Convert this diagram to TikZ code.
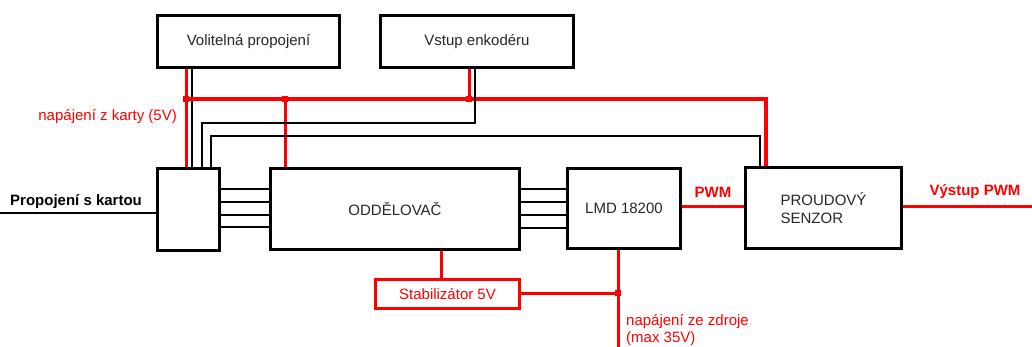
\documentclass[tikz,border=0pt]{standalone}
\usepackage{fontspec}
\setmainfont{Liberation Sans}
\begin{document}
\begin{tikzpicture}[x=1pt,y=-1pt,
  box/.style={draw, line width=3pt, inner sep=0pt, font=\fontsize{15}{18}\selectfont, text=black!85},
  rbox/.style={box, draw=red, text=red},
  wire/.style={line width=2pt},
  rwire/.style={draw=red, line width=3pt},
  lbl/.style={inner sep=0pt, font=\fontsize{15}{17}\selectfont},
  rlbl/.style={lbl, text=red},
  blbl/.style={lbl, font=\fontsize{15}{17}\selectfont\bfseries},
  jdot/.style={fill=red, minimum size=6pt, inner sep=0pt}
]
\useasboundingbox (0,0) rectangle (1032,347);
% boxes
\node[box, minimum width=182pt, minimum height=52pt] (vol) at (248.5,41.5) {Volitelná propojení};
\node[box, minimum width=193pt, minimum height=52pt] (enc) at (477,41.5) {Vstup enkodéru};
\node[box, minimum width=62pt, minimum height=82pt] (jb) at (188.5,209.5) {};
\node[box, minimum width=249pt, minimum height=81pt] (odd) at (395,209) {ODDĚLOVAČ};
\node[box, minimum width=113pt, minimum height=80pt] (lmd) at (624,208.5) {LMD 18200};
\node[box, minimum width=156pt, minimum height=81pt, align=left] (sen) at (823.5,208) {PROUDOVÝ\\SENZOR};
\node[rbox, minimum width=144pt, minimum height=29pt] (stab) at (447.5,294) {Stabilizátor 5V};
% helper coordinates
\coordinate (xa) at (186,0);
\coordinate (xb) at (192,0);
\coordinate (b1) at (186,99);
\coordinate (b2) at (285,99);
\coordinate (b3) at (469,99);
\coordinate (b4) at (766,99);
\coordinate (e1) at (475,123);
\coordinate (e2) at (202,123);
\coordinate (f1) at (211,136);
\coordinate (f2) at (760,136);
\coordinate (L) at (0,213);
\coordinate (pw) at (0,207);
\coordinate (out) at (1032,207);
\coordinate (sx) at (441,0);
\coordinate (j5) at (618,293);
\coordinate (pz) at (618,347);
% top connections
\draw[rwire] (vol.south -| xa) -- (jb.north -| xa);
\draw[wire] (vol.south -| xb) -- (jb.north -| xb);
\draw[rwire, line width=3.5pt] (b1) -- (b4) -- (sen.north -| b4);
\draw[rwire] (b2) -- (odd.north -| b2);
\draw[rwire] (enc.south -| b3) -- (b3);
\draw[wire] (enc.south -| e1) -- (e1) -- (e2) -- (jb.north -| e2);
\draw[wire] (jb.north -| f1) -- (f1) -- (f2) -- (sen.north -| f2);
\node[jdot] (d1) at (b1) {};
\node[jdot] (d2) at (b2) {};
\node[jdot] (d3) at (b3) {};
% parallel buses
\foreach \y in {189,202,215,227}{
  \draw[wire] (jb.east |- 0,\y) -- (odd.west |- 0,\y);
}
\foreach \y in {189,202,215.5,228}{
  \draw[wire] (odd.east |- 0,\y) -- (lmd.west |- 0,\y);
}
% left input
\draw[line width=2.5pt] (L) -- (jb.west |- L);
\node[blbl, anchor=west] (pk) at (10,202) {Propojení s kartou};
% PWM
\draw[rwire] (lmd.east |- pw) -- (sen.west |- pw);
\node[blbl, text=red] (pwm) at (713,192) {PWM};
\draw[rwire] (sen.east |- out) -- (out);
\node[blbl, text=red] (vyst) at (975,192) {Výstup PWM};
% power
\draw[rwire] (odd.south -| sx) -- (stab.north -| sx);
\draw[rwire] (stab.east |- j5) -- (j5);
\draw[rwire] (lmd.south -| pz) -- (pz);
\node[jdot] (d5) at (j5) {};
\node[rlbl, anchor=east] (nk) at (177,117) {napájení z karty (5V)};
\node[rlbl, anchor=west, align=left] (nz) at (626,330.5) {napájení ze zdroje\\(max 35V)};
\end{tikzpicture}
\end{document}
